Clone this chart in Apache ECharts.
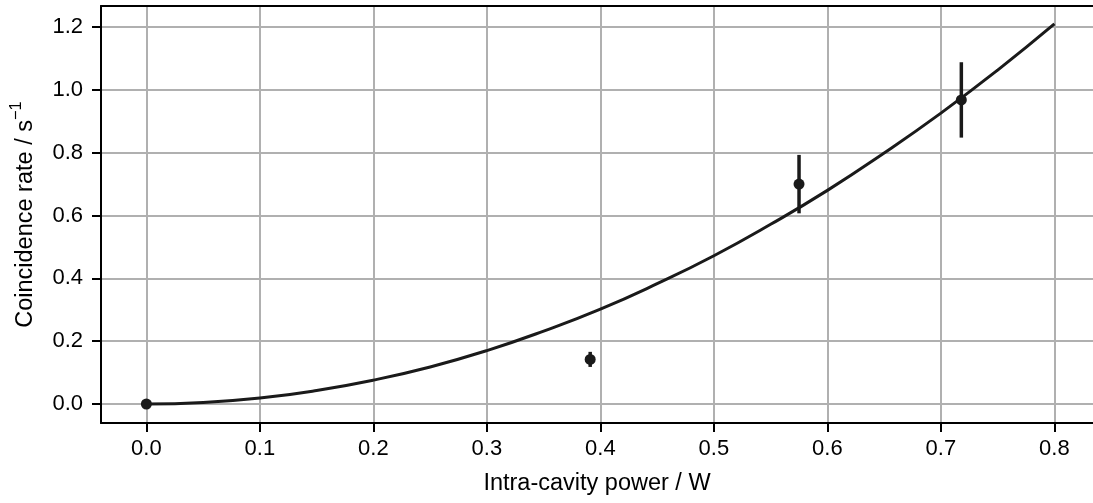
<!DOCTYPE html>
<html>
<head>
<meta charset="utf-8">
<script src="https://cdn.jsdelivr.net/npm/echarts@6/dist/echarts.min.js"></script>
<style>
html,body{margin:0;padding:0;background:#fff;}
#chart{width:1093px;height:503px;}
</style>
</head>
<body>
<div id="chart"></div>
<script>
// Measured data points (power in W, rate in 1/s, error in 1/s)
const pointX = [0.0, 0.391, 0.575, 0.718];
const pointY = [0.0, 0.142, 0.700, 0.968];
const pointErr = [0.0, 0.024, 0.093, 0.120];

// Fit curve
const curveX = [0.0, 0.05, 0.1, 0.15, 0.2, 0.25, 0.3, 0.35, 0.4, 0.45, 0.5, 0.55, 0.6, 0.65, 0.7, 0.75, 0.8];
const curveY = [0.0, 0.005, 0.019, 0.043, 0.076, 0.118, 0.170, 0.232, 0.302, 0.383, 0.472, 0.572, 0.680, 0.799, 0.926, 1.063, 1.210];

// Tick labels
const xTicks = [0.0, 0.1, 0.2, 0.3, 0.4, 0.5, 0.6, 0.7, 0.8];
const yTicks = [0.0, 0.2, 0.4, 0.6, 0.8, 1.0, 1.2];

const FONT = 'Liberation Sans, Arial, sans-serif';
const chart = echarts.init(document.getElementById('chart'), null, {renderer: 'canvas'});

const pts = pointX.map((x, i) => [x, pointY[i], pointErr[i]]);
const curve = curveX.map((x, i) => [x, curveY[i]]);

chart.setOption({
  animation: false,
  backgroundColor: '#ffffff',
  grid: {left: 99, top: 6, right: 0, bottom: 80, containLabel: false},
  xAxis: [{
    type: 'value', min: -0.04, max: 0.834,
    name: 'Intra-cavity power / W', nameLocation: 'middle', nameGap: 49,
    nameTextStyle: {fontFamily: FONT, fontSize: 23.5, color: '#000'},
    axisLine: {show: true, onZero: false, lineStyle: {color: '#000', width: 2}},
    axisTick: {show: true, customValues: xTicks, length: 9, lineStyle: {color: '#000', width: 2}},
    axisLabel: {show: true, customValues: xTicks, margin: 15, fontFamily: FONT, fontSize: 22, color: '#000',
      formatter: v => v.toFixed(1)},
    splitLine: {show: true, lineStyle: {color: '#b0b0b0', width: 2}}
  }, {
    type: 'value', min: -0.04, max: 0.834, position: 'top',
    axisLine: {show: true, onZero: false, lineStyle: {color: '#000', width: 2}},
    axisTick: {show: false}, axisLabel: {show: false}, splitLine: {show: false}
  }],
  yAxis: [{
    type: 'value', min: -0.0605, max: 1.267,
    name: '{a|Coincidence rate / s}{s|−1}', nameLocation: 'middle', nameGap: 63, nameRotate: 90,
    nameTextStyle: {fontFamily: FONT, fontSize: 23.5, color: '#000',
      rich: {
        a: {fontFamily: FONT, fontSize: 23.5, color: '#000', verticalAlign: 'bottom', lineHeight: 30},
        s: {fontFamily: FONT, fontSize: 16.5, color: '#000', verticalAlign: 'top', lineHeight: 30}
      }},
    axisLine: {show: true, onZero: false, lineStyle: {color: '#000', width: 2}},
    axisTick: {show: true, customValues: yTicks, length: 9, lineStyle: {color: '#000', width: 2}},
    axisLabel: {show: true, customValues: yTicks, margin: 18, fontFamily: FONT, fontSize: 22, color: '#000',
      formatter: v => v.toFixed(1)},
    splitLine: {show: true, lineStyle: {color: '#b0b0b0', width: 2}}
  }],
  series: [
    {
      type: 'line', data: curve, smooth: true, showSymbol: false, z: 3,
      lineStyle: {color: '#1a1a1a', width: 3}
    },
    {
      type: 'custom', z: 4,
      data: pts,
      renderItem: function (params, api) {
        const x = api.value(0), y = api.value(1), e = api.value(2);
        const p = api.coord([x, y]);
        const lo = api.coord([x, y - e]);
        const hi = api.coord([x, y + e]);
        return {
          type: 'group',
          children: [
            {type: 'line', shape: {x1: lo[0], y1: lo[1], x2: hi[0], y2: hi[1]},
              style: {stroke: '#1a1a1a', lineWidth: 3.5}},
            {type: 'circle', shape: {cx: p[0], cy: p[1], r: 5.5},
              style: {fill: '#1a1a1a'}}
          ]
        };
      }
    }
  ]
});
</script>
</body>
</html>
